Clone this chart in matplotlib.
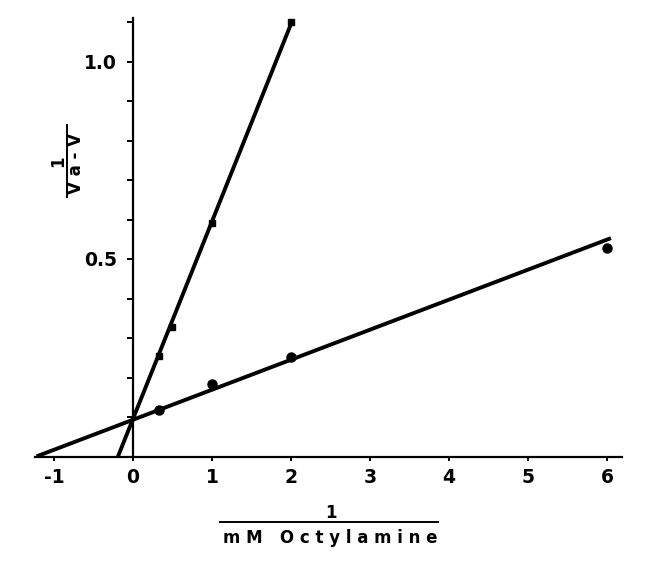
import matplotlib
matplotlib.use("Agg")
import matplotlib.pyplot as plt
import numpy as np
from matplotlib.lines import Line2D

# ---- data ----
sq_x = [1/3, 0.5, 1.0, 2.0]
sq_y = [0.254, 0.327, 0.590, 1.100]
ci_x = [1/3, 1.0, 2.0, 6.0]
ci_y = [0.118, 0.184, 0.253, 0.527]
# fitted lines: intercept, slope, x-range
sq_fit = (0.095, 0.500)
sq_range = (-0.19, 2.0)
ci_fit = (0.093, 0.076)
ci_range = (-1.22, 6.05)
x_ticks = [-1, 0, 1, 2, 3, 4, 5, 6]
x_ticklabels = ["-1", "0", "1", "2", "3", "4", "5", "6"]
y_ticks = [0.1, 0.2, 0.3, 0.4, 0.5, 0.6, 0.7, 0.8, 0.9, 1.0, 1.1]
y_labelled = {0.5: "0.5", 1.0: "1.0"}

plt.rcParams['font.family'] = ['DejaVu Sans']
plt.rcParams['font.weight'] = 'bold'

W, H = 652, 568
fig = plt.figure(figsize=(W/100, H/100), dpi=100)
ax = fig.add_axes([35/W, (H-456.5)/H, (622-35)/W, (456.5-14.1)/H])
ax.set_xlim(-1.24, 6.19)
ax.set_ylim(0, 1.12)

for (b, m), (x0, x1) in [(sq_fit, sq_range), (ci_fit, ci_range)]:
    xs = np.array([x0, x1])
    ax.plot(xs, b + m*xs, color='black', lw=2.8, solid_capstyle='butt', clip_on=False)

ax.plot(sq_x, sq_y, 's', color='black', ms=5, clip_on=False)
ax.plot(ci_x, ci_y, 'o', color='black', ms=6.5, clip_on=False)

ax.spines['top'].set_visible(False)
ax.spines['right'].set_visible(False)
ax.spines['left'].set_position(('data', 0))
ax.spines['bottom'].set_position(('data', 0))
ax.spines['left'].set_bounds(0, 1.11)
for s in ('left', 'bottom'):
    ax.spines[s].set_linewidth(1.6)

ax.set_xticks(x_ticks)
ax.set_xticklabels(x_ticklabels)
ax.set_yticks(y_ticks)
ax.set_yticklabels([y_labelled.get(round(v, 1), "") for v in y_ticks])
ax.tick_params(axis='x', direction='out', length=3, width=1.4, pad=5, labelsize=13.5)
ax.tick_params(axis='y', direction='out', length=4.5, width=1.4, pad=7, labelsize=13.5)
for lab in ax.get_xticklabels() + ax.get_yticklabels():
    lab.set_fontweight('bold')

def px(x, y):
    return (x/W, (H-y)/H)

# y label as fraction
fig.text(*px(58, 161), "1", rotation=90, ha='center', va='center', fontsize=12, fontweight='bold')
fig.add_artist(Line2D([67/W, 67/W], [(H-125)/H, (H-197)/H], color='black', lw=1.4, transform=fig.transFigure))
fig.text(*px(76, 163), "V a - V", rotation=90, ha='center', va='center', fontsize=12, fontweight='bold')

# x label as fraction
fig.text(*px(331, 513), "1", ha='center', va='center', fontsize=12, fontweight='bold')
fig.add_artist(Line2D([220/W, 438/W], [(H-522)/H, (H-522)/H], color='black', lw=1.4, transform=fig.transFigure))
fig.text(*px(330, 538), "m M   O c t y l a m i n e", ha='center', va='center', fontsize=12, fontweight='bold')

fig.savefig("out.png", dpi=100)
